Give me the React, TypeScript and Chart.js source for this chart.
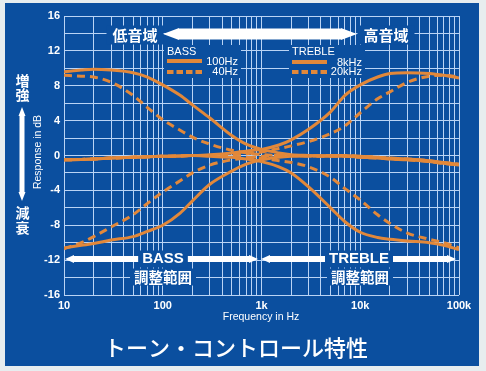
import React, { useEffect, useRef } from 'react';
import { Chart, registerables } from 'chart.js';

Chart.register(...registerables);

// ---- data ----
const FREQS = [10, 15, 20, 30, 50, 70, 100, 150, 200, 300, 500, 700, 1000, 1500, 2000, 3000, 5000, 7000, 10000, 15000, 20000, 30000, 50000, 70000, 100000];

const BASS_100_BOOST = [9.6, 9.8, 9.9, 9.8, 9.5, 9.0, 8.1, 6.9, 5.8, 4.3, 2.3, 1.3, 0.7, 0.3, 0.1, 0.0, -0.1, -0.1, -0.2, -0.3, -0.4, -0.5, -0.7, -0.9, -1.1];
const BASS_100_CUT = [-10.6, -10.3, -10.1, -9.7, -9.3, -8.7, -8.0, -6.6, -5.2, -3.3, -1.8, -1.0, -0.5, -0.2, -0.1, -0.05, 0.0, 0.0, -0.1, -0.2, -0.3, -0.4, -0.6, -0.8, -1.0];
const BASS_40_BOOST = [9.2, 9.1, 9.0, 8.4, 6.9, 5.5, 4.1, 2.9, 2.1, 1.3, 0.6, 0.3, 0.1, 0.0, 0.0, -0.05, -0.1, -0.1, -0.2, -0.3, -0.4, -0.5, -0.7, -0.9, -1.1];
const BASS_40_CUT = [-10.7, -10.0, -9.3, -8.2, -6.8, -5.5, -4.2, -2.9, -2.0, -1.1, -0.5, -0.3, -0.1, 0.0, 0.0, -0.05, 0.0, 0.0, -0.1, -0.2, -0.3, -0.4, -0.6, -0.8, -1.0];

const TREBLE_8K_BOOST = [-0.5, -0.45, -0.4, -0.3, -0.2, -0.15, -0.1, -0.05, 0.0, 0.1, 0.3, 0.5, 0.7, 1.2, 1.8, 3.0, 5.0, 6.9, 8.1, 9.0, 9.4, 9.5, 9.4, 9.2, 8.9];
const TREBLE_8K_CUT = [-0.5, -0.45, -0.4, -0.3, -0.2, -0.15, -0.1, -0.05, 0.0, -0.1, -0.2, -0.4, -0.7, -1.3, -2.0, -3.6, -6.0, -7.6, -8.8, -9.4, -9.6, -9.8, -10.0, -10.3, -10.8];
const TREBLE_20K_BOOST = [-0.5, -0.45, -0.4, -0.3, -0.2, -0.15, -0.1, -0.05, 0.0, 0.0, 0.1, 0.2, 0.4, 0.8, 1.1, 1.6, 2.5, 3.4, 4.9, 6.5, 7.3, 8.4, 9.1, 9.2, 9.0];
const TREBLE_20K_CUT = [-0.5, -0.45, -0.4, -0.3, -0.2, -0.15, -0.1, -0.05, 0.0, 0.0, -0.1, -0.2, -0.3, -0.6, -0.8, -1.3, -2.5, -3.8, -5.1, -6.8, -7.8, -8.9, -9.6, -10.0, -10.6];

const X_GRID = [10, 20, 30, 40, 50, 60, 70, 80, 90, 100, 200, 300, 400, 500, 600, 700, 800, 900, 1000, 2000, 3000, 4000, 5000, 6000, 7000, 8000, 9000, 10000, 20000, 30000, 40000, 50000, 60000, 70000, 80000, 90000, 100000];
const X_LABELS: Record<number, string> = { 10: '10', 100: '100', 1000: '1k', 10000: '10k', 100000: '100k' };

const TITLE = 'トーン・コントロール特性';
const X_TITLE = 'Frequency in Hz';
const Y_TITLE = 'Response in dB';

// ---- style ----
const BLUE = '#0b4f9f';
const PAGE = '#e7edef';
const ORANGE = '#e2883a';
const GRID = '#bad4f5';
const LAT = '"Liberation Sans", Arial, sans-serif';
const JP = '"Noto Sans CJK JP", sans-serif';

function series(vals: number[]) {
  return FREQS.map((f, i) => ({ x: f, y: vals[i] }));
}

function arrowH(ctx: CanvasRenderingContext2D, x1: number, x2: number, y: number, h: number, head: number, headH: number) {
  ctx.beginPath();
  ctx.moveTo(x1, y);
  ctx.lineTo(x1 + head, y - headH / 2);
  ctx.lineTo(x1 + head, y - h / 2);
  ctx.lineTo(x2 - head, y - h / 2);
  ctx.lineTo(x2 - head, y - headH / 2);
  ctx.lineTo(x2, y);
  ctx.lineTo(x2 - head, y + headH / 2);
  ctx.lineTo(x2 - head, y + h / 2);
  ctx.lineTo(x1 + head, y + h / 2);
  ctx.lineTo(x1 + head, y + headH / 2);
  ctx.closePath();
  ctx.fill();
}

function arrowV(ctx: CanvasRenderingContext2D, x: number, y1: number, y2: number, w: number, head: number, headW: number) {
  ctx.beginPath();
  ctx.moveTo(x, y1);
  ctx.lineTo(x + headW / 2, y1 + head);
  ctx.lineTo(x + w / 2, y1 + head);
  ctx.lineTo(x + w / 2, y2 - head);
  ctx.lineTo(x + headW / 2, y2 - head);
  ctx.lineTo(x, y2);
  ctx.lineTo(x - headW / 2, y2 - head);
  ctx.lineTo(x - w / 2, y2 - head);
  ctx.lineTo(x - w / 2, y1 + head);
  ctx.lineTo(x - headW / 2, y1 + head);
  ctx.closePath();
  ctx.fill();
}

function boxText(ctx: CanvasRenderingContext2D, text: string, x: number, y: number, font: string, size: number, px: number, py: number) {
  ctx.font = font;
  const w = ctx.measureText(text).width;
  ctx.fillStyle = BLUE;
  ctx.fillRect(x - w / 2 - px, y - size / 2 - py, w + 2 * px, size + 2 * py);
  ctx.fillStyle = '#ffffff';
  ctx.textAlign = 'center';
  ctx.textBaseline = 'middle';
  ctx.fillText(text, x, y);
}

function legendLine(ctx: CanvasRenderingContext2D, x1: number, x2: number, y: number, dashed: boolean) {
  ctx.save();
  ctx.strokeStyle = ORANGE;
  ctx.lineWidth = 4;
  ctx.setLineDash(dashed ? [6.5, 3] : []);
  ctx.beginPath();
  ctx.moveTo(x1, y);
  ctx.lineTo(x2, y);
  ctx.stroke();
  ctx.restore();
}

const decor = {
  id: 'decor',
  beforeDraw(chart: any) {
    const ctx: CanvasRenderingContext2D = chart.ctx;
    ctx.save();
    ctx.fillStyle = PAGE;
    ctx.fillRect(0, 0, chart.width, chart.height);
    ctx.fillStyle = BLUE;
    ctx.fillRect(5, 3, 474, 363);
    ctx.restore();
  },
  beforeDatasetsDraw(chart: any) {
    const ctx: CanvasRenderingContext2D = chart.ctx;
    ctx.save();
    // top range arrow
    ctx.fillStyle = '#ffffff';
    arrowH(ctx, 163, 357, 34, 11, 16, 12);
    boxText(ctx, '低音域', 135, 35, `bold 15px ${JP}`, 15, 6, 2);
    boxText(ctx, '高音域', 386, 35, `bold 15px ${JP}`, 15, 6, 2);

    // legends
    ctx.fillStyle = BLUE;
    ctx.fillRect(164, 45, 77, 33);
    ctx.fillRect(289, 45, 76, 33);
    ctx.fillStyle = '#ffffff';
    ctx.font = `11px ${LAT}`;
    ctx.textBaseline = 'middle';
    ctx.textAlign = 'left';
    ctx.fillText('BASS', 167, 52);
    ctx.fillText('TREBLE', 292, 52);
    ctx.textAlign = 'right';
    ctx.fillText('100Hz', 238, 62);
    ctx.fillText('40Hz', 238, 72);
    ctx.fillText('8kHz', 362, 63);
    ctx.fillText('20kHz', 362, 72);
    legendLine(ctx, 167, 202, 61, false);
    legendLine(ctx, 167, 202, 72, true);
    legendLine(ctx, 292, 327, 62, false);
    legendLine(ctx, 292, 327, 72, true);

    // bottom range arrows
    ctx.fillStyle = '#ffffff';
    arrowH(ctx, 65, 258, 259, 6, 9, 8);
    arrowH(ctx, 261, 456, 259, 6, 9, 8);
    boxText(ctx, 'BASS', 163, 259, `bold 15px ${LAT}`, 13, 4, 2);
    boxText(ctx, 'TREBLE', 359, 259, `bold 15px ${LAT}`, 13, 4, 2);
    boxText(ctx, '調整範囲', 163, 277, `bold 14.5px ${JP}`, 15, 4, 1);
    boxText(ctx, '調整範囲', 360, 277, `bold 14.5px ${JP}`, 15, 4, 1);
    ctx.restore();
  },
  afterDraw(chart: any) {
    const ctx: CanvasRenderingContext2D = chart.ctx;
    ctx.save();
    ctx.fillStyle = '#ffffff';
    ctx.textAlign = 'center';
    ctx.textBaseline = 'middle';
    // left side vertical labels
    ctx.font = `bold 14px ${JP}`;
    ctx.fillText('増', 22.5, 81);
    ctx.fillText('強', 22.5, 95);
    ctx.fillText('減', 22.5, 213);
    ctx.fillText('衰', 22.5, 228);
    arrowV(ctx, 22, 107, 201, 5, 9, 7);
    // y title
    ctx.save();
    ctx.translate(38, 152);
    ctx.rotate(-Math.PI / 2);
    ctx.font = `10.5px ${LAT}`;
    ctx.fillText(Y_TITLE, 0, 0);
    ctx.restore();
    // x title
    ctx.font = `10.5px ${LAT}`;
    ctx.fillText(X_TITLE, 261, 317);
    // main title
    ctx.font = `500 22px ${JP}`;
    ctx.fillText(TITLE, 236, 348);
    ctx.restore();
  },
};

function mk(label: string, vals: number[], dashed: boolean) {
  return {
    label,
    data: series(vals),
    borderColor: ORANGE,
    backgroundColor: ORANGE,
    borderWidth: 3,
    borderDash: dashed ? [8, 5] : [],
    pointRadius: 0,
    fill: false,
    cubicInterpolationMode: 'monotone' as const,
  };
}

export default function App() {
  const ref = useRef<HTMLCanvasElement | null>(null);
  useEffect(() => {
    if (!ref.current) return;
    const chart = new Chart(ref.current, {
      type: 'line',
      data: {
        datasets: [
          mk('BASS 100Hz boost', BASS_100_BOOST, false),
          mk('BASS 100Hz cut', BASS_100_CUT, false),
          mk('BASS 40Hz boost', BASS_40_BOOST, true),
          mk('BASS 40Hz cut', BASS_40_CUT, true),
          mk('TREBLE 8kHz boost', TREBLE_8K_BOOST, false),
          mk('TREBLE 8kHz cut', TREBLE_8K_CUT, false),
          mk('TREBLE 20kHz boost', TREBLE_20K_BOOST, true),
          mk('TREBLE 20kHz cut', TREBLE_20K_CUT, true),
        ],
      },
      options: {
        responsive: false,
        animation: false,
        events: [],
        layout: { padding: { left: 34, top: 16, right: 27, bottom: 56 } },
        plugins: {
          legend: { display: false },
          tooltip: { enabled: false },
          title: { display: false },
        },
        scales: {
          x: {
            type: 'logarithmic',
            min: 10,
            max: 100000,
            afterFit: (s: any) => { s.height = 20; },
            afterBuildTicks: (s: any) => { s.ticks = X_GRID.map((v) => ({ value: v })); },
            ticks: {
              autoSkip: false,
              maxRotation: 0,
              minRotation: 0,
              padding: 4,
              color: '#ffffff',
              font: { family: LAT, size: 11, weight: 'bold' },
              callback: (v: any) => X_LABELS[Number(v)] ?? '',
            },
            grid: { color: GRID, lineWidth: 1, drawTicks: false },
            border: { display: false },
          },
          y: {
            min: -16,
            max: 16,
            afterFit: (s: any) => { s.width = 30; },
            ticks: {
              stepSize: 2,
              autoSkip: false,
              padding: 4,
              color: '#ffffff',
              font: { family: LAT, size: 11, weight: 'bold' },
              callback: (v: any) => (Number(v) % 4 === 0 ? String(v) : ''),
            },
            grid: { color: GRID, lineWidth: 1, drawTicks: false },
            border: { display: false },
          },
        },
      },
      plugins: [decor],
    } as any);
    return () => chart.destroy();
  }, []);
  return (
    <div style={{ position: 'fixed', left: 0, top: 0, width: 486, height: 371 }}>
      <canvas ref={ref} width={486} height={371} style={{ display: 'block', width: 486, height: 371 }} />
    </div>
  );
}
